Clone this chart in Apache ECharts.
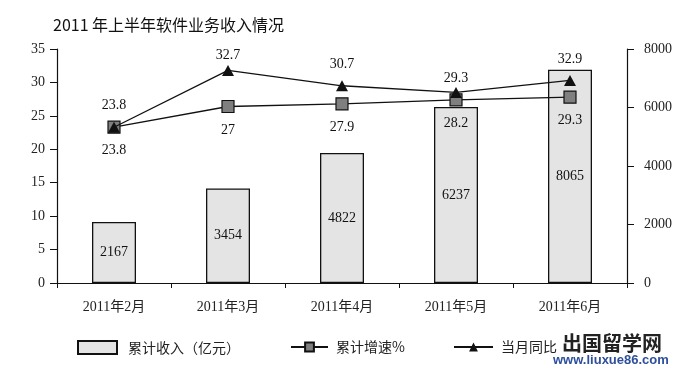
<!DOCTYPE html>
<html>
<head>
<meta charset="utf-8">
<script src="https://cdn.jsdelivr.net/npm/echarts@6/dist/echarts.min.js"></script>
<style>html,body{margin:0;padding:0;background:#fff}#c{width:696px;height:370px}</style>
</head>
<body>
<div id="c"></div>
<script>
// ---- data ----
const titleText = '2011 年上半年软件业务收入情况';
const categories = ['2011年2月', '2011年3月', '2011年4月', '2011年5月', '2011年6月'];
// bar heights as drawn (right axis, 亿元) and printed labels
const revenueDrawn = [2085, 3234, 4444, 6017, 7292];
const revenueLabels = [2167, 3454, 4822, 6237, 8065];
// 累计增速% : drawn positions and printed labels
const cumGrowthDrawn = [23.3, 26.4, 26.8, 27.4, 27.8];
const cumGrowthLabels = [23.8, 27, 27.9, 28.2, 29.3];
// 当月同比 : drawn positions and printed labels
const yoyDrawn = [23.3, 31.8, 29.5, 28.5, 30.3];
const yoyLabels = [23.8, 32.7, 30.7, 29.3, 32.9];
const leftTicks = [0, 35, 5];
const rightTicks = [0, 8000, 2000];
const seriesNames = ['累计收入（亿元）', '累计增速%', '当月同比'];

const serif = '"Liberation Serif", "Noto Sans CJK SC", serif';
const cjk = '"Noto Sans CJK SC", "Liberation Serif", sans-serif';
const yoyLabelGap = [9, 3, 9, 2, 9];

const chart = echarts.init(document.getElementById('c'), null, {renderer: 'canvas'});
const legendText = {fontFamily: cjk, fontSize: 14, color: '#222'};
chart.setOption({
  animation: false,
  backgroundColor: '#fff',
  title: {
    text: titleText, left: 48, top: 12,
    textStyle: {fontFamily: cjk, fontSize: 16, fontWeight: 'normal', color: '#111'}
  },
  grid: {left: 57, right: 69, top: 49, bottom: 87},
  legend: [
    {data: [seriesNames[0]], left: 72, top: 335, itemWidth: 39, itemHeight: 13,
     textStyle: Object.assign({padding: [0, 0, 0, 6]}, legendText), icon: 'rect'},
    {data: [seriesNames[1]], left: 285, top: 335, itemWidth: 37, itemHeight: 11,
     textStyle: Object.assign({padding: [0, 0, 0, 3]}, legendText)},
    {data: [seriesNames[2]], left: 448, top: 335, itemWidth: 39, itemHeight: 11,
     textStyle: Object.assign({padding: [0, 0, 0, 3]}, legendText)}
  ],
  xAxis: {
    type: 'category', data: categories, boundaryGap: true,
    axisLine: {lineStyle: {color: '#111', width: 1.2}},
    axisTick: {show: true, length: 5, lineStyle: {color: '#111'}},
    axisLabel: {fontFamily: serif, fontSize: 14, color: '#222', margin: 17}
  },
  yAxis: [
    {type: 'value', min: leftTicks[0], max: leftTicks[1], interval: leftTicks[2],
     axisLine: {show: true, lineStyle: {color: '#111', width: 1.2}},
     axisTick: {show: true, length: 7, lineStyle: {color: '#111'}},
     splitLine: {show: false},
     axisLabel: {fontFamily: serif, fontSize: 14, color: '#222', margin: 12}},
    {type: 'value', min: rightTicks[0], max: rightTicks[1], interval: rightTicks[2], position: 'right',
     axisLine: {show: true, lineStyle: {color: '#111', width: 1.2}},
     axisTick: {show: true, length: 7, lineStyle: {color: '#111'}},
     splitLine: {show: false},
     axisLabel: {fontFamily: serif, fontSize: 14, color: '#222', margin: 17,
                 formatter: v => String(v)}}
  ],
  series: [
    {name: seriesNames[0], type: 'bar', yAxisIndex: 1, barWidth: 44,
     data: revenueDrawn,
     itemStyle: {color: '#e4e4e4', borderColor: '#111', borderWidth: 1.3},
     label: {show: true, position: 'inside', fontFamily: serif, fontSize: 14, color: '#111',
             formatter: p => String(revenueLabels[p.dataIndex])}},
    {name: seriesNames[1], type: 'line', yAxisIndex: 0, data: cumGrowthDrawn,
     symbol: 'rect', symbolSize: 12,
     lineStyle: {color: '#111', width: 1.3},
     itemStyle: {color: '#7f7f7f', borderColor: '#111', borderWidth: 1.2},
     label: {show: true, position: 'bottom', distance: 10, fontFamily: serif, fontSize: 14, color: '#111',
             formatter: p => String(cumGrowthLabels[p.dataIndex])},
     z: 3},
    {name: seriesNames[2], type: 'line', yAxisIndex: 0,
     data: yoyDrawn.map((v, i) => ({value: v, label: {distance: yoyLabelGap[i]}})),
     symbol: 'triangle', symbolSize: [12, 11],
     lineStyle: {color: '#111', width: 1.3},
     itemStyle: {color: '#111', borderColor: '#111', borderWidth: 0},
     label: {show: true, position: 'top', distance: 9, fontFamily: serif, fontSize: 14, color: '#111',
             formatter: p => String(yoyLabels[p.dataIndex])},
     z: 4}
  ],
  graphic: [
    {type: 'text', left: 562, top: 333,
     style: {text: '出国留学网', fontFamily: cjk, fontSize: 20, fontWeight: 'bold', fill: '#222'}},
    {type: 'text', left: 553, top: 354,
     style: {text: 'www.liuxue86.com', fontFamily: '"Liberation Sans", sans-serif', fontSize: 13,
             fontWeight: 'bold', fill: '#2d4f9c'}}
  ]
});
</script>
</body>
</html>
